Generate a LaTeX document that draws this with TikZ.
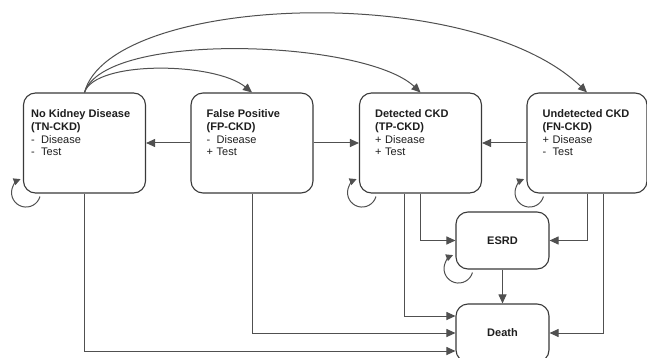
\documentclass[tikz,border=0pt]{standalone}
\usepackage{fontspec}
\setmainfont{Liberation Sans}
\usetikzlibrary{arrows.meta}
\definecolor{boxc}{HTML}{3A3A3A}
\definecolor{linec}{HTML}{505050}
\definecolor{txtc}{HTML}{1E1E1E}
\begin{document}
\begin{tikzpicture}[x=1pt,y=-1pt,
 state/.style={draw=boxc, line width=1.1pt, rounded corners=12pt, minimum width=122pt, minimum height=100pt, inner sep=0pt},
 smallstate/.style={state, minimum width=93pt, minimum height=57pt, font=\fontsize{11}{13}\selectfont\bfseries, text=txtc},
 lbl/.style={anchor=north west, inner sep=0pt, align=left, font=\fontsize{11}{12.7}\selectfont, text=txtc},
 conn/.style={draw=linec, line width=1pt, -{Triangle[length=9pt,width=8pt]}},
 loopc/.style={draw=linec, line width=1pt, -{Triangle[length=7pt,width=7pt]}},
]
\useasboundingbox (0,0) rectangle (647,358);
\fill[white] (0,0) rectangle (647,358);

\node[state] (b1) at (84.5,143) {};
\node[state] (b2) at (252,143) {};
\node[state] (b3) at (420.5,143) {};
\node[state, minimum width=120pt] (b4) at (587,143) {};
\node[smallstate] (esrd) at (502.5,240.5) {ESRD};
\node[smallstate, minimum height=58pt] (death) at (502.5,333) {Death};

\node[lbl] (t1) at ([xshift=8pt,yshift=-17pt]b1.north west)
 {\textbf{No Kidney Disease}\\\textbf{(TN-CKD)}\\\makebox[10pt][l]{-}Disease\\\makebox[10pt][l]{-}Test};
\node[lbl] (t2) at ([xshift=16pt,yshift=-17pt]b2.north west)
 {\textbf{False Positive}\\\textbf{(FP-CKD)}\\\makebox[10pt][l]{-}Disease\\\makebox[10pt][l]{+}Test};
\node[lbl] (t3) at ([xshift=16pt,yshift=-17pt]b3.north west)
 {\textbf{Detected CKD}\\\textbf{(TP-CKD)}\\\makebox[10pt][l]{+}Disease\\\makebox[10pt][l]{+}Test};
\node[lbl] (t4) at ([xshift=16pt,yshift=-17pt]b4.north west)
 {\textbf{Undetected CKD}\\\textbf{(FN-CKD)}\\\makebox[10pt][l]{+}Disease\\\makebox[10pt][l]{-}Test};

% horizontal arrows
\draw[conn] (b2.west) -- (b1.east);
\draw[conn] (b2.east) -- (b3.west);
\draw[conn] (b4.west) -- (b3.east);

% top curves
\draw[conn] (b1.north) .. controls (95,60) and (215,62) .. (b2.north);
\draw[conn] (b1.north) .. controls (105,30) and (365,40) .. (b3.north);
\draw[conn] (b1.north) .. controls (110,-5) and (470,-20) .. (b4.north);

% self loops
\draw[loopc] ([xshift=17pt,yshift=-3pt]b1.south west) arc[start angle=16, end angle=248, radius=14.5];
\draw[loopc] ([xshift=17pt,yshift=-3pt]b3.south west) arc[start angle=16, end angle=248, radius=14.5];
\draw[loopc] ([xshift=17pt,yshift=-3pt]b4.south west) arc[start angle=16, end angle=248, radius=14.5];
\draw[loopc] ([xshift=17pt,yshift=-3pt]esrd.south west) arc[start angle=16, end angle=248, radius=14.5];

% down connectors
\draw[conn] (b1.south) |- ([yshift=-18pt]death.west);
\draw[conn] (b2.south) |- (death.west);
\draw[conn] ([xshift=-16pt]b3.south) |- ([yshift=17pt]death.west);
\draw[conn] (b3.south) |- (esrd.west);
\draw[conn] (b4.south) |- (esrd.east);
\draw[conn] ([xshift=16pt]b4.south) |- (death.east);
\draw[conn] (esrd.south) -- (death.north);
\end{tikzpicture}
\end{document}
